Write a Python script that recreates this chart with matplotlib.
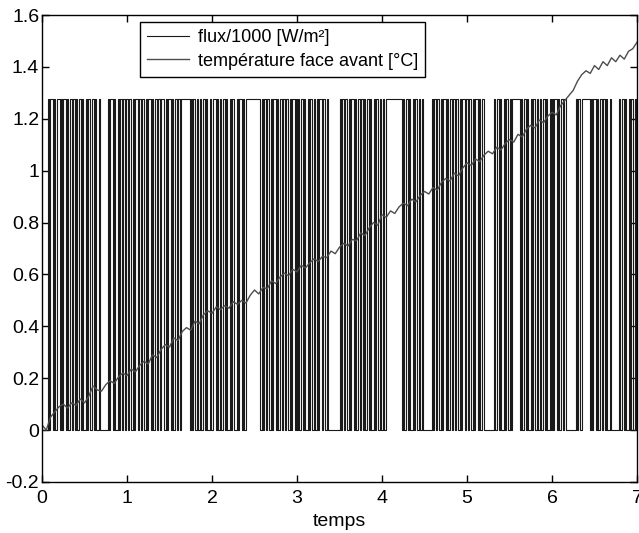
import numpy as np
import matplotlib
matplotlib.use("Agg")
import matplotlib.pyplot as plt

# ---- data ----
# flux state per time unit (each row spans one unit of "temps"), 1 = high level
flux_rows = [
    "0000010110" "1001101011" "0100101101" "0110100101" "1011010010"
    "000000" "1011010010110101",
    "1010010110" "1101001011" "0100101101" "1001011010" "0101101"
    "111111" "0101101001011010010",
    "0110100101" "1010010110" "0101101001" "11111111111" "0101101001"
    "0110100101" "10100101101",
    "0101101001" "0110100101" "1011010" "000000000" "1011010010"
    "1101001011" "0101101001" "011010",
    "01011" "111111111111" "0101101001011010" "01" "0000000"
    "10110100101101001" "0110100101101",
    "10100101101001" "000000000" "1011010010110101" "111111"
    "010110100101101001011010010",
    "101101001011" "00000000" "10110" "1111111" "010110100101101001"
    "0000000" "101101001011010",
]
flux_high = 1.275  # flux/1000 high level

# temperature (front face), sampled every 0.05 time units from 0 to 7
temperature = [
    0.020, 0.000, 0.050, 0.070, 0.090, 0.100, 0.085, 0.105, 0.095, 0.120,
    0.105, 0.130, 0.170, 0.155, 0.150, 0.175, 0.190, 0.180, 0.205, 0.220,
    0.210, 0.235, 0.225, 0.250, 0.265, 0.255, 0.290, 0.280, 0.310, 0.330,
    0.320, 0.355, 0.345, 0.380, 0.395, 0.385, 0.420, 0.410, 0.445, 0.460,
    0.450, 0.475, 0.465, 0.480, 0.470, 0.495, 0.485, 0.500, 0.490, 0.520,
    0.540, 0.525, 0.550, 0.545, 0.575, 0.565, 0.590, 0.605, 0.595, 0.620,
    0.610, 0.635, 0.625, 0.645, 0.660, 0.650, 0.670, 0.665, 0.690, 0.680,
    0.705, 0.720, 0.710, 0.735, 0.730, 0.760, 0.750, 0.780, 0.800, 0.790,
    0.830, 0.820, 0.845, 0.835, 0.860, 0.875, 0.865, 0.890, 0.880, 0.905,
    0.920, 0.910, 0.935, 0.925, 0.955, 0.970, 0.960, 0.990, 0.980, 1.010,
    1.030, 1.020, 1.045, 1.035, 1.060, 1.075, 1.065, 1.090, 1.080, 1.105,
    1.120, 1.110, 1.140, 1.130, 1.160, 1.175, 1.165, 1.195, 1.185, 1.210,
    1.225, 1.215, 1.250, 1.270, 1.290, 1.310, 1.345, 1.370, 1.385, 1.375,
    1.405, 1.390, 1.420, 1.405, 1.435, 1.420, 1.445, 1.430, 1.460, 1.470,
    1.495,
]

x_ticks = [0, 1, 2, 3, 4, 5, 6, 7]
y_ticks = [-0.2, 0, 0.2, 0.4, 0.6, 0.8, 1, 1.2, 1.4, 1.6]
y_labels = ["-0.2", "0", "0.2", "0.4", "0.6", "0.8", "1", "1.2", "1.4", "1.6"]
labels = ["flux/1000 [W/m\u00b2]", "temp\u00e9rature face avant [\u00b0C]"]

# ---- build step series ----
ft, fv = [], []
for k, row in enumerate(flux_rows):
    n = len(row)
    for i, b in enumerate(row):
        ft.append(k + i / n)
        fv.append(flux_high if b == "1" else 0.0)
ft.append(7.0)
fv.append(fv[-1])
ft = np.array(ft)
fv = np.array(fv)
tt = np.linspace(0, 7, len(temperature))

plt.rcParams['font.family'] = ['Liberation Sans', 'DejaVu Sans']
fig = plt.figure(figsize=(6.39, 5.33), dpi=100)
ax = fig.add_axes([42 / 639, 1 - 482 / 533, 595 / 639, 467 / 533])

ax.step(ft, fv, where='post', color='#1a1a1a', lw=0.8, label=labels[0])
ax.plot(tt, temperature, color='#4d4d4d', lw=1.0, label=labels[1])

ax.set_xlim(0, 7)
ax.set_ylim(-0.2, 1.6)
ax.set_xticks(x_ticks)
ax.set_xticklabels([str(v) for v in x_ticks])
ax.set_yticks(y_ticks)
ax.set_yticklabels(y_labels)
ax.tick_params(direction='in', length=5, width=1, top=True, right=True,
               labelsize=14)
ax.tick_params(axis='y', pad=2)
ax.tick_params(axis='x', pad=6)
for s in ax.spines.values():
    s.set_linewidth(1.0)
ax.set_xlabel("temps", fontsize=14, labelpad=4)

leg = ax.legend(loc='upper left', bbox_to_anchor=(0.165, 0.985),
                borderaxespad=0, fontsize=13, fancybox=False, framealpha=1,
                edgecolor='black', handlelength=2.3, handletextpad=0.5,
                borderpad=0.4, labelspacing=0.35)
leg.get_frame().set_linewidth(1.0)

fig.savefig("out.png", dpi=100)
